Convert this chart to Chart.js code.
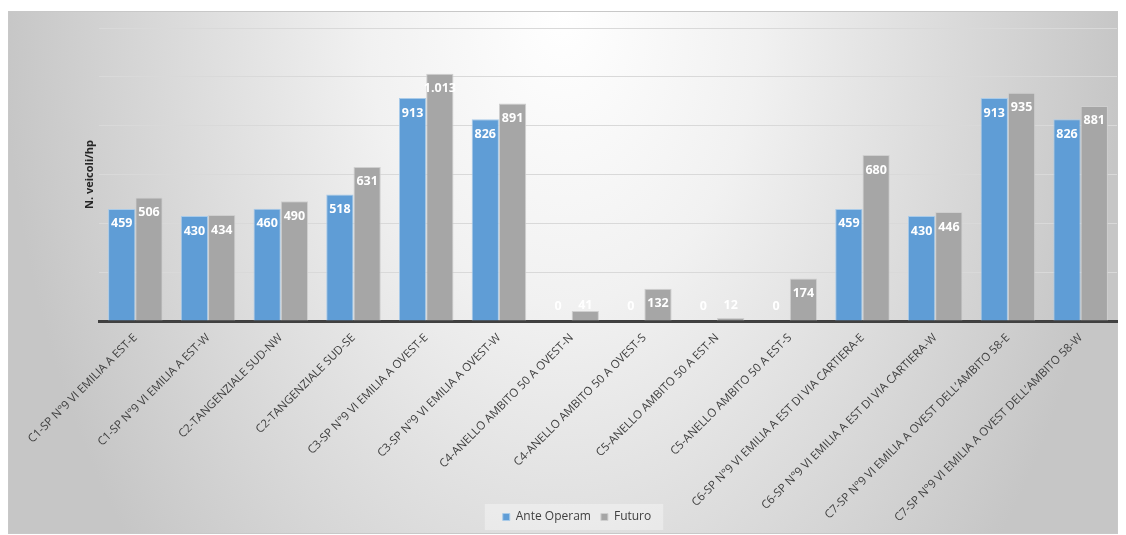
<!DOCTYPE html>
<html>
<head>
<meta charset="utf-8">
<script src="https://cdn.jsdelivr.net/npm/chart.js@4.4.1/dist/chart.umd.min.js"></script>
<style>
  body { margin: 0; background: #fff; }
  #wrap { width: 1126px; height: 535px; }
</style>
</head>
<body>
<div id="wrap"><canvas id="grafico"></canvas></div>
<script>
const categorie = [
  "C1-SP N°9 VI EMILIA A EST-E",
  "C1-SP N°9 VI EMILIA A EST-W",
  "C2-TANGENZIALE SUD-NW",
  "C2-TANGENZIALE SUD-SE",
  "C3-SP N°9 VI EMILIA A OVEST-E",
  "C3-SP N°9 VI EMILIA A OVEST-W",
  "C4-ANELLO AMBITO 50 A OVEST-N",
  "C4-ANELLO AMBITO 50 A OVEST-S",
  "C5-ANELLO AMBITO 50 A EST-N",
  "C5-ANELLO AMBITO 50 A EST-S",
  "C6-SP N°9 VI EMILIA A EST DI VIA CARTIERA-E",
  "C6-SP N°9 VI EMILIA A EST DI VIA CARTIERA-W",
  "C7-SP N°9 VI EMILIA A OVEST DELL\u2019AMBITO 58-E",
  "C7-SP N°9 VI EMILIA A OVEST DELL\u2019AMBITO 58-W",
];
const anteOperam = [459, 430, 460, 518, 913, 826, 0, 0, 0, 0, 459, 430, 913, 826];
const futuro = [506, 434, 490, 631, 1013, 891, 41, 132, 12, 174, 680, 446, 935, 881];

function formatta(v) {
  return String(v).replace(/\B(?=(\d{3})+(?!\d))/g, ".");
}

// sfondo con sfumatura come nel grafico excel
const sfondo = {
  id: "sfondo",
  afterLayout(chart) {
    // legenda un po' spostata a sinistra come nell'originale
    const lg = chart.legend;
    if (lg) {
      lg.left -= 23;
      lg.right -= 23;
    }
    // le etichette lunghe non devono essere tagliate
    chart.scales.x.bottom = chart.height;
  },
  beforeDraw(chart) {
    const ctx = chart.ctx;
    ctx.save();
    ctx.fillStyle = "#ffffff";
    ctx.fillRect(0, 0, chart.width, chart.height);
    ctx.translate(563, 11);
    ctx.scale(1, 1.5);
    const g = ctx.createRadialGradient(0, 0, 0, 0, 0, 560);
    g.addColorStop(0, "#ffffff");
    g.addColorStop(0.35, "#f1f1f1");
    g.addColorStop(1, "#c6c6c6");
    ctx.fillStyle = g;
    ctx.fillRect(-555, 0, 1109, 522 / 1.5);
    ctx.restore();
    ctx.save();
    ctx.strokeStyle = "#c8c8c8";
    ctx.lineWidth = 1;
    ctx.strokeRect(8.5, 11.5, 1109, 522);
    // riquadro legenda
    const lg = chart.legend;
    if (lg && lg.legendHitBoxes && lg.legendHitBoxes.length) {
      const hb = lg.legendHitBoxes;
      const x0 = hb[0].left - 18;
      const x1 = hb[hb.length - 1].left + hb[hb.length - 1].width + 12;
      const yc = hb[0].top + hb[0].height / 2;
      ctx.fillStyle = "rgba(255,255,255,0.35)";
      ctx.fillRect(x0, yc - 13, x1 - x0, 26);
    }
    ctx.restore();
  },
};

const etichette = {
  id: "etichette",
  afterDatasetsDraw(chart) {
    const ctx = chart.ctx;
    ctx.save();
    ctx.font = "bold 12.5px 'Open Sans'";
    ctx.fillStyle = "#ffffff";
    ctx.textAlign = "center";
    ctx.textBaseline = "middle";
    chart.data.datasets.forEach((ds, i) => {
      const meta = chart.getDatasetMeta(i);
      meta.data.forEach((bar, j) => {
        const y = Math.min(bar.y + 15, bar.base - 15);
        ctx.fillText(formatta(ds.data[j]), bar.x, y);
      });
    });
    ctx.restore();
  },
};

new Chart(document.getElementById("grafico").getContext("2d"), {
  type: "bar",
  data: {
    labels: categorie,
    datasets: [
      {
        label: "Ante Operam",
        data: anteOperam,
        backgroundColor: "#5f9dd6",
        borderColor: "#a9cbe9",
        borderWidth: 1,
      },
      {
        label: "Futuro",
        data: futuro,
        backgroundColor: "#a6a6a6",
        borderColor: "#cfcfcf",
        borderWidth: 1,
      },
    ],
  },
  options: {
    responsive: true,
    maintainAspectRatio: false,
    animation: false,
    layout: { padding: { left: 83, right: 9, top: 28, bottom: 2 } },
    datasets: {
      bar: { categoryPercentage: 0.75, barPercentage: 1 },
    },
    plugins: {
      legend: {
        position: "bottom",
        labels: {
          boxWidth: 7,
          boxHeight: 7,
          padding: 10,
          color: "#404040",
          font: { family: "'Open Sans'", size: 12 },
        },
      },
      tooltip: { enabled: false },
    },
    scales: {
      x: {
        grid: { display: false },
        border: { display: true, color: "#404040", width: 3 },
        ticks: {
          maxRotation: 45,
          minRotation: 45,
          autoSkip: false,
          color: "#404040",
          padding: 2,
          font: { family: "'Open Sans'", size: 11.5 },
        },
        afterFit(scale) {
          scale.height = 180;
        },
      },
      y: {
        min: 0,
        max: 1200,
        ticks: { display: false, stepSize: 200 },
        grid: { color: "#d9d9d9", lineWidth: 1, drawTicks: false },
        border: { display: false },
        title: {
          display: true,
          text: "N. veicoli/hp",
          color: "#262626",
          padding: 0,
          font: { family: "'Open Sans'", size: 11, weight: "bold" },
        },
        afterFit(scale) {
          scale.width = 16;
        },
      },
    },
  },
  plugins: [sfondo, etichette],
});
</script>
</body>
</html>
